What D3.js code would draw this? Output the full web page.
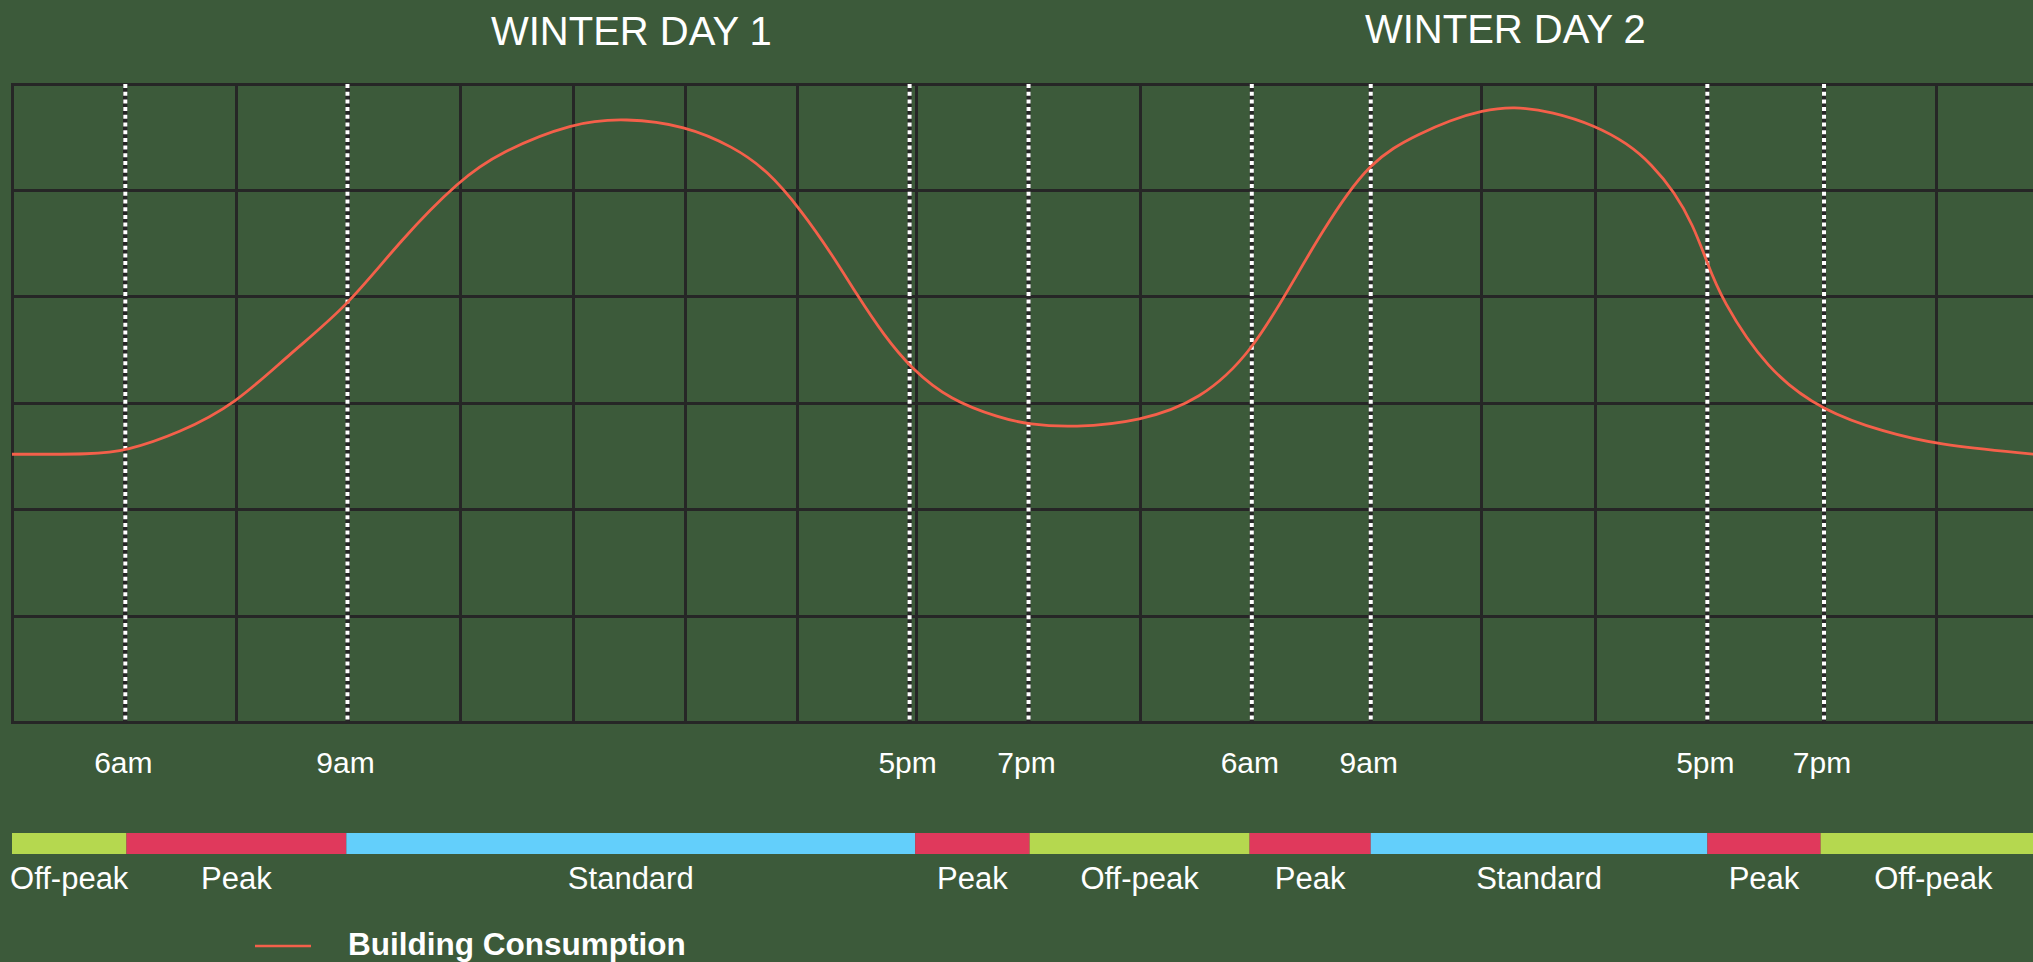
<!DOCTYPE html>
<meta charset="utf-8">
<style>

body {
margin: 0;
background: #3c5a3a;
}

svg {
display: block;
}

.title {
font: 40px "Liberation Sans", Arial, sans-serif;
fill: #fff;
}

.tick-label {
font: 30px "Liberation Sans", Arial, sans-serif;
fill: #fff;
}

.band-label {
font: 31px "Liberation Sans", Arial, sans-serif;
fill: #fff;
}

.legend-label {
font: bold 31.5px "Liberation Sans", Arial, sans-serif;
fill: #fff;
}

.grid line {
stroke: #262626;
stroke-width: 3;
shape-rendering: crispEdges;
}

</style>
<body>

<script src="https://cdn.jsdelivr.net/npm/d3@7"></script>
<script>

// x is in grid-column units (one column = one grid cell), y in grid-row units
var dayTitles = ["WINTER DAY 1", "WINTER DAY 2"];
var dayTitlePos = [5.52, 13.31];

var gridCols = [0, 1, 2, 3, 4, 5, 6, 7, 8, 8.06, 9.06, 10.06, 11.05, 12.11, 13.1, 14.11, 15.11, 16.15, 17.15];
var gridRows = [0, 1, 2, 3, 4, 5, 6];

// time markers (dotted lines)
var markerLabels = ["6am", "9am", "5pm", "7pm", "6am", "9am", "5pm", "7pm"];
var markerPos = [1.01, 2.99, 8.0, 9.06, 11.05, 12.11, 15.11, 16.15];

// tariff bands
var bandNames = ["Off-peak", "Peak", "Standard", "Peak", "Off-peak", "Peak", "Standard", "Peak", "Off-peak"];
var bandStart = [0, 1.02, 2.98, 8.05, 9.07, 11.03, 12.11, 15.11, 16.12];
var bandEnd = [1.02, 2.98, 8.05, 9.07, 11.03, 12.11, 15.11, 16.12, 18.13];
var bandColor = {"Off-peak": "#b5d84f", "Peak": "#e0395c", "Standard": "#63cffb"};

// building consumption curve
var consPos = [0, 0.73, 1.01, 1.49, 1.99, 2.48, 2.98, 3.46, 3.99, 4.35, 5.0, 5.47, 6.0, 6.43, 6.73, 7.03, 7.32, 7.53, 7.77, 8.01, 8.36, 8.81, 9.06, 9.46, 10.06, 10.59, 11.05, 11.48, 11.69, 11.9, 12.11, 12.31, 12.52, 12.82, 13.1, 13.38, 13.73, 14.11, 14.4, 14.61, 14.82, 14.98, 15.11, 15.23, 15.64, 16.15, 16.69, 17.15, 18.02];
var consVal = [2.52, 2.52, 2.55, 2.72, 2.99, 3.47, 3.9, 4.53, 5.1, 5.36, 5.64, 5.68, 5.61, 5.41, 5.19, 4.82, 4.38, 4.02, 3.64, 3.33, 3.03, 2.86, 2.8, 2.77, 2.83, 3.03, 3.47, 4.26, 4.63, 4.97, 5.24, 5.4, 5.52, 5.66, 5.75, 5.79, 5.74, 5.61, 5.44, 5.25, 4.98, 4.68, 4.32, 3.99, 3.31, 2.92, 2.73, 2.61, 2.52];

var legendLabel = "Building Consumption";

var width = 2033,
	height = 962;

var margin = {top: 84, left: 12},
	unitW = 112.2,
	unitH = 106.4;

var x = d3.scaleLinear().domain([0, 18]).range([margin.left, margin.left + 18 * unitW]),
	y = d3.scaleLinear().domain([0, 6]).range([margin.top + 6 * unitH, margin.top]);

var svg = d3.select("body").append("svg")
	.attr("width", width)
	.attr("height", height);

// titles
svg.selectAll(".title")
	.data(dayTitles)
	.enter().append("text")
		.attr("class", "title")
		.attr("x", function(d, i) { return x(dayTitlePos[i]); })
		.attr("y", function(d, i) { return i == 0 ? 45 : 43; })
		.attr("text-anchor", "middle")
		.text(function(d) { return d; });

// grid
var grid = svg.append("g").attr("class", "grid");

grid.selectAll(".row")
	.data(gridRows)
	.enter().append("line")
		.attr("class", "row")
		.attr("x1", x(0) - 1.5)
		.attr("x2", width)
		.attr("y1", function(d) { return y(d); })
		.attr("y2", function(d) { return y(d); });

grid.selectAll(".col")
	.data(gridCols)
	.enter().append("line")
		.attr("class", "col")
		.attr("x1", function(d) { return x(d); })
		.attr("x2", function(d) { return x(d); })
		.attr("y1", y(6) - 1.5)
		.attr("y2", y(0) + 1.5);

// dotted time markers: dark line with white dashes on top
var markers = svg.append("g");

markers.selectAll(".mback")
	.data(markerPos)
	.enter().append("line")
		.attr("class", "mback")
		.attr("x1", function(d) { return x(d); })
		.attr("x2", function(d) { return x(d); })
		.attr("y1", y(6))
		.attr("y2", y(0))
		.style("stroke", "#262626")
		.style("stroke-width", 4);

markers.selectAll(".mdash")
	.data(markerPos)
	.enter().append("line")
		.attr("class", "mdash")
		.attr("x1", function(d) { return x(d); })
		.attr("x2", function(d) { return x(d); })
		.attr("y1", y(6))
		.attr("y2", y(0))
		.style("stroke", "#fff")
		.style("stroke-width", 4)
		.style("stroke-dasharray", "4 3.7");

svg.selectAll(".tick-label")
	.data(markerLabels)
	.enter().append("text")
		.attr("class", "tick-label")
		.attr("x", function(d, i) { return x(markerPos[i]) - 2; })
		.attr("y", 773)
		.attr("text-anchor", "middle")
		.text(function(d) { return d; });

// consumption line, smoothed
var line = d3.line()
	.x(function(d, i) { return x(consPos[i]); })
	.y(function(d) { return y(d); })
	.curve(d3.curveBasis);

svg.append("path")
	.datum(consVal)
	.attr("d", line)
	.style("fill", "none")
	.style("stroke", "#f4604a")
	.style("stroke-width", 2.8);

// tariff bar
svg.selectAll(".band")
	.data(bandNames)
	.enter().append("rect")
		.attr("class", "band")
		.attr("x", function(d, i) { return x(bandStart[i]); })
		.attr("width", function(d, i) { return x(bandEnd[i]) - x(bandStart[i]); })
		.attr("y", 833)
		.attr("height", 21)
		.style("fill", function(d) { return bandColor[d]; });

svg.selectAll(".band-label")
	.data(bandNames)
	.enter().append("text")
		.attr("class", "band-label")
		.attr("x", function(d, i) { return (x(bandStart[i]) + x(bandEnd[i])) / 2; })
		.attr("y", 889)
		.attr("text-anchor", "middle")
		.text(function(d) { return d; });

// legend
svg.append("line")
	.attr("x1", 255)
	.attr("x2", 311)
	.attr("y1", 946)
	.attr("y2", 946)
	.style("stroke", "#f4604a")
	.style("stroke-width", 2.5);

svg.append("text")
	.attr("class", "legend-label")
	.attr("x", 348)
	.attr("y", 955)
	.text(legendLabel);

</script>
